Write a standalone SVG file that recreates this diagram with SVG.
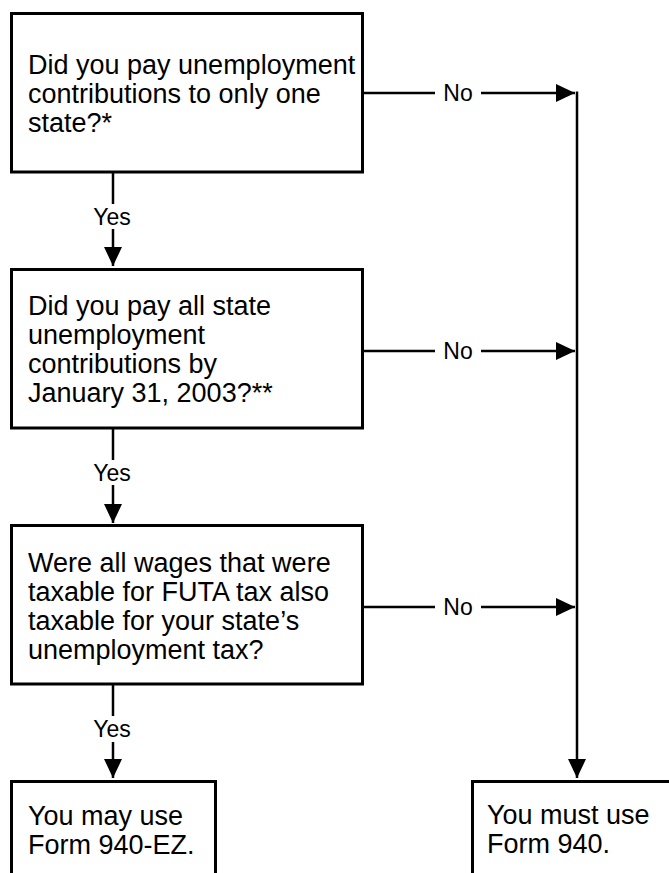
<svg xmlns="http://www.w3.org/2000/svg" width="669" height="873" viewBox="0 0 669 873">
<style>
.box{fill:#fff;stroke:#000;stroke-width:3}
.open{fill:none;stroke:#000;stroke-width:3}
.t{font-family:"Liberation Sans",Arial,Helvetica,sans-serif;font-size:27px;fill:#000}
.lbl{font-family:"Liberation Sans",Arial,Helvetica,sans-serif;font-size:23px;fill:#000;text-anchor:middle}
.c{fill:none;stroke:#000;stroke-width:2.5}
</style>
<defs>
<marker id="ah" markerUnits="userSpaceOnUse" markerWidth="19" markerHeight="19" refX="19" refY="9.5" orient="auto" viewBox="0 0 19 19">
<path d="M0,0.5 L19,9.5 L0,18.5 z" fill="#000"/>
</marker>
</defs>
<rect width="669" height="873" fill="#fff"/>
<g id="q1">
<rect class="box" x="11.5" y="13.5" width="351" height="158.5"/>
<text class="t" x="28" y="74">Did you pay unemployment</text>
<text class="t" x="28" y="103">contributions to only one</text>
<text class="t" x="28" y="132">state?*</text>
</g>
<g id="q2">
<rect class="box" x="11.5" y="269.5" width="351" height="158.5"/>
<text class="t" x="28" y="315">Did you pay all state</text>
<text class="t" x="28" y="344">unemployment</text>
<text class="t" x="28" y="373">contributions by</text>
<text class="t" x="28" y="402">January 31, 2003?**</text>
</g>
<g id="q3">
<rect class="box" x="11.5" y="525.5" width="351" height="158.5"/>
<text class="t" x="28" y="572">Were all wages that were</text>
<text class="t" x="28" y="601">taxable for FUTA tax also</text>
<text class="t" x="28" y="630">taxable for your state’s</text>
<text class="t" x="28" y="659">unemployment tax?</text>
</g>
<g id="ez">
<path class="open" d="M11.5,880 V781.5 H215.5 V880"/>
<text class="t" x="28" y="825">You may use</text>
<text class="t" x="28" y="854">Form 940-EZ.</text>
</g>
<g id="f940">
<path class="open" d="M472.5,880 V781.5 H680"/>
<text class="t" x="487" y="824">You must use</text>
<text class="t" x="487" y="853">Form 940.</text>
</g>
<g id="connectors">
<path class="c" d="M362,93 H435"/>
<path class="c" d="M481,93 H575" marker-end="url(#ah)"/>
<text class="lbl" x="458" y="101">No</text>
<path class="c" d="M362,351 H435"/>
<path class="c" d="M481,351 H575" marker-end="url(#ah)"/>
<text class="lbl" x="458" y="359">No</text>
<path class="c" d="M362,607 H435"/>
<path class="c" d="M481,607 H575" marker-end="url(#ah)"/>
<text class="lbl" x="458" y="615">No</text>
<path class="c" d="M577,91.5 V778" marker-end="url(#ah)"/>
<path class="c" d="M113,172 V204"/>
<path class="c" d="M113,229 V266" marker-end="url(#ah)"/>
<text class="lbl" x="112" y="225">Yes</text>
<path class="c" d="M113,428 V460"/>
<path class="c" d="M113,485 V523" marker-end="url(#ah)"/>
<text class="lbl" x="112" y="481">Yes</text>
<path class="c" d="M113,684 V716"/>
<path class="c" d="M113,742 V778" marker-end="url(#ah)"/>
<text class="lbl" x="112" y="737">Yes</text>
</g>
</svg>
